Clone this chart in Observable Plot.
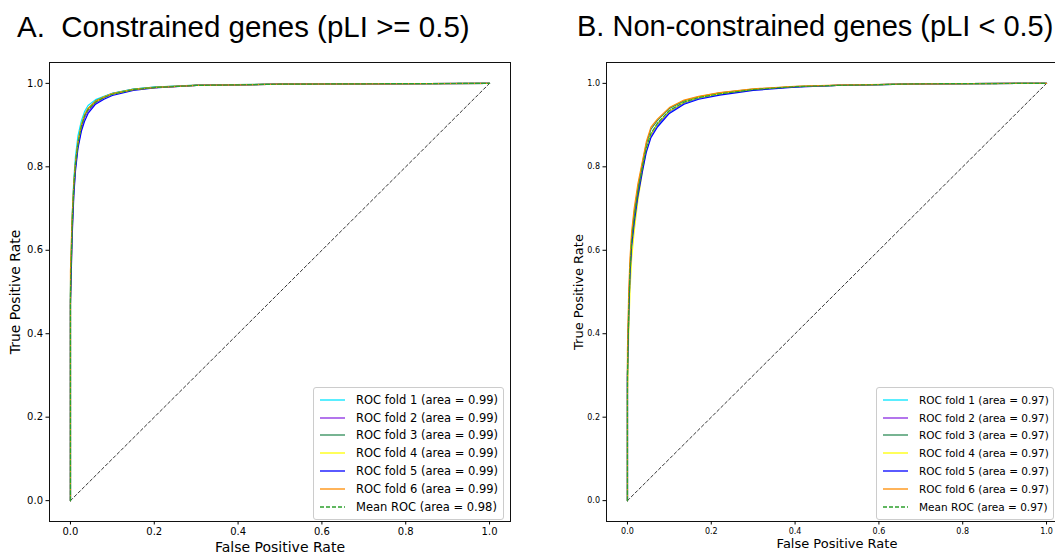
<!DOCTYPE html>
<html>
<head>
<meta charset="utf-8">
<script src="https://cdn.jsdelivr.net/npm/d3@7"></script>
<script src="https://cdn.jsdelivr.net/npm/@observablehq/plot@0.6"></script>
<style>
  html, body { margin: 0; padding: 0; background: #fff; overflow: hidden; }
  #wrap { position: relative; width: 1055px; height: 557px; overflow: hidden; background: #fff; }
  .title { position: absolute; font-family: "Liberation Sans", Arial, sans-serif; font-size: 29.5px; color: #000; white-space: pre; line-height: 1; }
  .panel { position: absolute; top: 45px; }
  .legend { position: absolute; border: 1px solid #cccccc; border-radius: 3px; background: rgba(255,255,255,0.85);
            font-family: "DejaVu Sans", sans-serif; color: #000; padding: 3px 6px 3px 6px; box-sizing: border-box; }
  .legend .row { display: flex; align-items: center; height: 17.8px; white-space: pre; }
  .legend svg { margin-right: 11px; flex: none; }
</style>
</head>
<body>
<div id="wrap"></div>
<script>
// ---------- data ----------
const foldNames = ["ROC fold 1", "ROC fold 2", "ROC fold 3", "ROC fold 4", "ROC fold 5", "ROC fold 6", "Mean ROC"];
const seriesColors = ["#00e5ff", "#8a2be2", "#2e8b57", "#ffff00", "#0000ff", "#ff8c00", "#2ca02c"];
const aAreas = ["0.99", "0.99", "0.99", "0.99", "0.99", "0.99", "0.98"];
const bAreas = ["0.97", "0.97", "0.97", "0.97", "0.97", "0.97", "0.97"];
const axisTicks = [0, 0.2, 0.4, 0.6, 0.8, 1.0];
const diagX = [0, 1];
const diagY = [0, 1];

// Panel A: constrained genes
const aFpr = [0, 0, 0.004, 0.008, 0.012, 0.018, 0.026, 0.034, 0.042, 0.06, 0.08, 0.1, 0.15, 0.2, 0.3, 0.5, 0.7, 1];
const aFold1 = [0, 0.52, 0.68, 0.77, 0.825, 0.875, 0.91, 0.933, 0.947, 0.961, 0.969, 0.976, 0.986, 0.991, 0.995, 0.998, 0.999, 1];
const aFold2 = [0, 0.48, 0.65, 0.74, 0.80, 0.85, 0.89, 0.918, 0.933, 0.953, 0.965, 0.974, 0.985, 0.990, 0.995, 0.998, 0.999, 1];
const aFold3 = [0, 0.50, 0.67, 0.76, 0.81, 0.86, 0.90, 0.925, 0.940, 0.958, 0.968, 0.976, 0.986, 0.991, 0.996, 0.998, 0.999, 1];
const aFold4 = [0, 0.47, 0.64, 0.74, 0.80, 0.855, 0.90, 0.925, 0.938, 0.956, 0.967, 0.975, 0.985, 0.990, 0.995, 0.998, 0.999, 1];
const aFold5 = [0, 0.47, 0.63, 0.73, 0.79, 0.845, 0.885, 0.91, 0.928, 0.950, 0.962, 0.971, 0.983, 0.989, 0.995, 0.998, 0.999, 1];
const aFold6 = [0, 0.55, 0.68, 0.76, 0.81, 0.86, 0.90, 0.925, 0.940, 0.957, 0.967, 0.975, 0.985, 0.990, 0.995, 0.998, 0.999, 1];
const aMean  = [0, 0.49, 0.655, 0.75, 0.805, 0.855, 0.897, 0.923, 0.937, 0.955, 0.966, 0.974, 0.985, 0.990, 0.995, 0.998, 0.999, 1];

// Panel B: non-constrained genes
const bFpr = [0, 0, 0.003, 0.006, 0.01, 0.016, 0.025, 0.036, 0.045, 0.056, 0.072, 0.1, 0.135, 0.17, 0.22, 0.3, 0.4, 0.5, 0.7, 1];
const bFold1 = [0, 0.28, 0.44, 0.54, 0.61, 0.67, 0.735, 0.795, 0.84, 0.875, 0.90, 0.93, 0.952, 0.964, 0.974, 0.985, 0.992, 0.995, 0.999, 1];
const bFold2 = [0, 0.30, 0.45, 0.55, 0.62, 0.675, 0.74, 0.80, 0.842, 0.876, 0.902, 0.932, 0.953, 0.965, 0.975, 0.985, 0.992, 0.995, 0.999, 1];
const bFold3 = [0, 0.32, 0.47, 0.56, 0.63, 0.69, 0.75, 0.81, 0.855, 0.89, 0.912, 0.94, 0.958, 0.968, 0.977, 0.986, 0.992, 0.995, 0.999, 1];
const bFold4 = [0, 0.25, 0.40, 0.50, 0.58, 0.645, 0.72, 0.79, 0.84, 0.878, 0.904, 0.934, 0.955, 0.966, 0.975, 0.985, 0.992, 0.995, 0.999, 1];
const bFold5 = [0, 0.30, 0.44, 0.54, 0.61, 0.665, 0.73, 0.79, 0.835, 0.87, 0.896, 0.928, 0.95, 0.962, 0.972, 0.983, 0.991, 0.995, 0.999, 1];
const bFold6 = [0, 0.36, 0.50, 0.58, 0.645, 0.70, 0.76, 0.815, 0.86, 0.895, 0.915, 0.942, 0.96, 0.969, 0.978, 0.987, 0.993, 0.996, 0.999, 1];
const bMean  = [0, 0.30, 0.45, 0.55, 0.62, 0.675, 0.74, 0.80, 0.846, 0.88, 0.905, 0.935, 0.955, 0.966, 0.975, 0.985, 0.992, 0.995, 0.999, 1];

const aSeries = [aFold1, aFold2, aFold3, aFold4, aFold5, aFold6, aMean];
const bSeries = [bFold1, bFold2, bFold3, bFold4, bFold5, bFold6, bMean];

// ---------- build ----------
const wrap = document.getElementById("wrap");

function rows(fpr, series) {
  const out = [];
  series.forEach((tprs, i) => tprs.forEach((t, j) => out.push({fpr: fpr[j], tpr: t, fold: foldNames[i]})));
  return out;
}

function panel(opts) {
  const data = rows(opts.fpr, opts.series);
  const folds = data.filter(d => d.fold !== "Mean ROC");
  const mean = data.filter(d => d.fold === "Mean ROC");
  const diag = diagX.map((x, i) => ({x, y: diagY[i]}));
  return Plot.plot({
    width: opts.width, height: 512,
    marginLeft: opts.ml, marginRight: opts.mr, marginTop: 17, marginBottom: 36,
    style: {fontFamily: "DejaVu Sans, sans-serif", background: "transparent", color: "#000"},
    x: {domain: [-0.05, 1.05]},
    y: {domain: [-0.05, 1.05]},
    color: {domain: foldNames, range: seriesColors},
    marks: [
      Plot.line(diag, {x: "x", y: "y", stroke: "#000", strokeWidth: 0.8, strokeDasharray: "3,2.5"}),
      Plot.line(folds, {x: "fpr", y: "tpr", z: "fold", stroke: "fold", strokeWidth: 1.2}),
      Plot.line(mean, {x: "fpr", y: "tpr", stroke: "fold", strokeWidth: 1.2, strokeDasharray: "4,2"}),
      Plot.frame({stroke: "#111", strokeWidth: 1}),
      Plot.axisX({ticks: axisTicks, tickFormat: d => d.toFixed(1), tickSize: 3.5, tickPadding: 3, fontSize: opts.tickFont, label: null}),
      Plot.axisY({ticks: axisTicks, tickFormat: d => d.toFixed(1), tickSize: 3.5, tickPadding: 3, fontSize: opts.tickFont, label: null}),
      Plot.text(["False Positive Rate"], {frameAnchor: "bottom", dy: opts.xlDy, lineAnchor: "middle", fontSize: opts.labelFont, fill: "#000"}),
      Plot.text(["True Positive Rate"], {frameAnchor: "left", dx: opts.ylDx, rotate: -90, lineAnchor: "middle", textAnchor: "middle", fontSize: opts.labelFont, fill: "#000"})
    ]
  });
}

function legend(areas, left, top, width, fontSize) {
  const div = document.createElement("div");
  div.className = "legend";
  div.style.left = left + "px";
  div.style.top = top + "px";
  div.style.width = width + "px";
  div.style.fontSize = fontSize + "px";
  foldNames.forEach((name, i) => {
    const row = document.createElement("div");
    row.className = "row";
    const dash = name === "Mean ROC" ? ' stroke-dasharray="4,2"' : "";
    row.innerHTML = `<svg width="25" height="10"><line x1="0" x2="25" y1="5" y2="5" stroke="${seriesColors[i]}" stroke-width="1.3"${dash}/></svg><span>${name} (area = ${areas[i]})</span>`;
    div.appendChild(row);
  });
  return div;
}

function title(text, left, top) {
  const t = document.createElement("div");
  t.className = "title";
  t.textContent = text;
  t.style.left = left + "px";
  t.style.top = top + "px";
  return t;
}

wrap.appendChild(title("A.  Constrained genes (pLI >= 0.5)", 17, 12));
const tB = title("B. Non-constrained genes (pLI < 0.5)", 577, 12);
tB.style.fontSize = "29px";
wrap.appendChild(tB);

const pA = panel({fpr: aFpr, series: aSeries, width: 530, ml: 49, mr: 20, tickFont: 10, labelFont: 14, xlDy: 26, ylDx: -34});
pA.classList.add("panel"); pA.style.left = "0px";
wrap.appendChild(pA);

const pB = panel({fpr: bFpr, series: bSeries, width: 521, ml: 50, mr: 10, tickFont: 8, labelFont: 13, xlDy: 22, ylDx: -28});
pB.classList.add("panel"); pB.style.left = "556px";
wrap.appendChild(pB);

wrap.appendChild(legend(aAreas, 313, 387, 191, 11.5));
wrap.appendChild(legend(bAreas, 876, 387, 178, 10.5));
</script>
</body>
</html>
